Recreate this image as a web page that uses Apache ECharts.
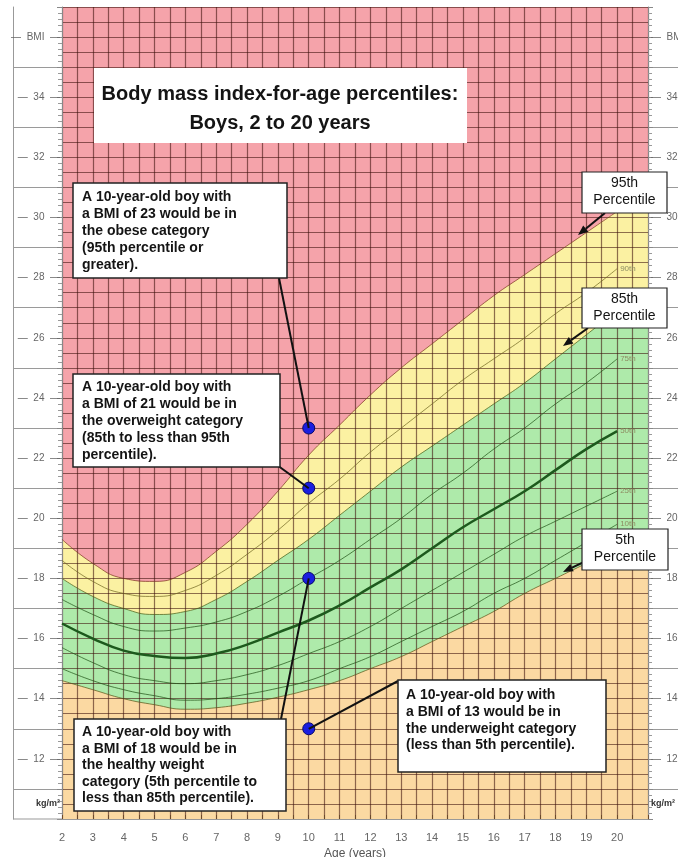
<!DOCTYPE html>
<html>
<head>
<meta charset="utf-8">
<title>BMI-for-age percentiles: Boys</title>
<script src="https://cdn.jsdelivr.net/npm/echarts@6/dist/echarts.min.js"></script>
<style>
html, body { margin: 0; padding: 0; background: #fff; }
#bmiChart { width: 678px; height: 857px; }
</style>
</head>
<body>
<div id="bmiChart"></div>
<script>
// ages in years, BMI percentile curves
var ages = [2, 3, 4, 5, 6, 7, 8, 9, 10, 11, 12, 13, 14, 15, 16, 17, 18, 19, 20];
var p5  = [14.6, 14.3, 14.0, 13.8, 13.65, 13.7, 13.85, 14.05, 14.3, 14.6, 15.0, 15.4, 15.9, 16.4, 16.9, 17.5, 18.0, 18.5, 19.0];
var p10 = [15.0, 14.6, 14.3, 14.1, 13.95, 14.0, 14.15, 14.35, 14.6, 15.0, 15.4, 15.9, 16.4, 16.9, 17.5, 18.0, 18.6, 19.2, 19.8];
var p25 = [15.7, 15.2, 14.8, 14.6, 14.5, 14.6, 14.8, 15.1, 15.5, 15.9, 16.4, 17.0, 17.6, 18.2, 18.8, 19.4, 19.9, 20.4, 20.9];
var p50 = [16.5, 16.0, 15.6, 15.42, 15.35, 15.5, 15.8, 16.2, 16.6, 17.1, 17.7, 18.3, 19.0, 19.7, 20.3, 20.9, 21.6, 22.3, 22.9];
var p75 = [17.3, 16.8, 16.4, 16.25, 16.35, 16.55, 16.9, 17.4, 18.0, 18.6, 19.3, 20.0, 20.8, 21.5, 22.3, 23.0, 23.8, 24.5, 25.3];
var p85 = [18.0, 17.4, 17.0, 16.8, 16.9, 17.3, 17.9, 18.6, 19.3, 20.1, 20.9, 21.7, 22.4, 23.1, 23.8, 24.5, 25.3, 26.1, 26.9];
var p90 = [18.6, 17.9, 17.5, 17.4, 17.6, 18.1, 18.8, 19.6, 20.5, 21.3, 22.2, 23.0, 23.8, 24.6, 25.3, 26.0, 26.8, 27.5, 28.3];
var p95 = [19.3, 18.5, 18.0, 17.9, 18.2, 18.9, 19.8, 20.9, 22.1, 23.1, 24.1, 25.0, 25.8, 26.6, 27.4, 28.1, 28.8, 29.5, 30.2];

// colour bands run on to the right edge of the grid (age 21)
var edgeAge = 21;
var edge95 = 30.7, edge85 = 27.5, edge5 = 19.5;

// the four example boys, all aged 10
var exampleBoys = [[10, 23], [10, 21], [10, 18], [10, 13]];

var ageLabels = ages;
var bmiLabels = [10.5, 12, 14, 16, 18, 20, 22, 24, 26, 28, 30, 32, 34, 36];
var oddLines = [11, 13, 15, 17, 19, 21, 23, 25, 27, 29, 31, 33, 35];

function pairs(xs, ys) {
    return xs.map(function (x, i) { return [x, ys[i]]; });
}
function bandData(ys, last) {
    return pairs(ages, ys).concat([[edgeAge, last]]);
}

var fontFam = "'Liberation Sans', Arial, sans-serif";
var gridLine = 'rgba(60, 15, 10, 0.58)';
var curveSmooth = 0.5;

function leftLabel(v) {
    if (v === 10.5) return '{u|kg/m²}';
    if (v === 36) return '—  BMI  —';
    return '—  ' + v + '  —';
}
function rightLabel(v) {
    if (v === 10.5) return '{u|kg/m²}';
    if (v === 36) return '—  BMI';
    return '—  ' + v;
}

function bandSeries(name, data, color) {
    return {
        name: name, type: 'line', data: data, smooth: curveSmooth, symbol: 'none',
        lineStyle: { width: 0 }, areaStyle: { color: color, opacity: 1, origin: 'start' },
        z: 1, silent: true
    };
}
function curveSeries(name, data, width, color, label) {
    var s = {
        name: name, type: 'line', data: pairs(ages, data), smooth: curveSmooth, symbol: 'none',
        lineStyle: { width: width, color: color }, z: 3, silent: true
    };
    if (label) {
        s.endLabel = { show: true, formatter: label, color: '#8d8d62', fontSize: 8, distance: 3, fontFamily: fontFam };
    }
    return s;
}

var myChart = echarts.init(document.getElementById('bmiChart'));
var option = {
    animation: false,
    grid: {
        left: 62, right: 30, top: 7, bottom: 38, show: true, backgroundColor: '#f5a3aa', borderWidth: 0,
        outerBoundsMode: 'none', containLabel: false
    },
    xAxis: {
        type: 'value', min: 2, max: 21, interval: 0.5, z: 2,
        axisLine: { show: true, onZero: false, lineStyle: { color: '#999', width: 1 } },
        axisTick: { show: true, inside: true, length: 4, lineStyle: { color: '#6b4a2a' } },
        axisLabel: { customValues: ageLabels, color: '#666', fontSize: 11, margin: 13, fontFamily: fontFam },
        splitLine: { show: true, lineStyle: { color: gridLine, width: 1.2 } },
        name: 'Age (years)', nameLocation: 'middle', nameGap: 25,
        nameTextStyle: { color: '#555', fontSize: 12, fontFamily: fontFam }
    },
    yAxis: [
        {   // grid lines every 0.5
            type: 'value', min: 10, max: 37, interval: 0.5, z: 2,
            axisLine: { show: false }, axisTick: { show: false }, axisLabel: { show: false },
            splitLine: { show: true, lineStyle: { color: gridLine, width: 1.2 } }
        },
        {   // left margin: labels and long lines at odd values
            type: 'value', min: 10, max: 37, position: 'left', z: 2,
            axisLine: { show: true, lineStyle: { color: '#888' } },
            axisTick: { show: true, customValues: oddLines, length: 49, lineStyle: { color: '#9a9a9a' } },
            axisLabel: {
                customValues: bmiLabels, formatter: leftLabel, margin: 2, color: '#666', fontSize: 10,
                fontFamily: fontFam, rich: { u: { fontSize: 9, fontWeight: 'bold', color: '#333', fontFamily: fontFam } }
            },
            splitLine: { show: false }
        },
        {   // left edge minor ticks every 0.2
            type: 'value', min: 10, max: 37, interval: 1, position: 'left', z: 2,
            axisLine: { show: false }, axisLabel: { show: false }, splitLine: { show: false },
            axisTick: { show: true, length: 5, lineStyle: { color: '#888' } },
            minorTick: { show: true, splitNumber: 5, length: 4, lineStyle: { color: '#999' } }
        },
        {   // outer left border of the margin
            type: 'value', min: 10, max: 37, position: 'left', offset: 49, z: 2,
            axisLine: { show: true, lineStyle: { color: '#999' } },
            axisTick: { show: false }, axisLabel: { show: false }, splitLine: { show: false }
        },
        {   // right margin
            type: 'value', min: 10, max: 37, position: 'right', z: 2,
            axisLine: { show: true, lineStyle: { color: '#888' } },
            axisTick: { show: true, customValues: oddLines, length: 30, lineStyle: { color: '#9a9a9a' } },
            axisLabel: {
                customValues: bmiLabels, formatter: rightLabel, margin: 3, color: '#666', fontSize: 10,
                fontFamily: fontFam, rich: { u: { fontSize: 9, fontWeight: 'bold', color: '#333', fontFamily: fontFam } }
            },
            splitLine: { show: false }
        },
        {   // right edge minor ticks
            type: 'value', min: 10, max: 37, interval: 1, position: 'right', z: 2,
            axisLine: { show: false }, axisLabel: { show: false }, splitLine: { show: false },
            axisTick: { show: true, length: 5, lineStyle: { color: '#888' } },
            minorTick: { show: true, splitNumber: 5, length: 4, lineStyle: { color: '#999' } }
        }
    ],
    series: [
        bandSeries('95th band', bandData(p95, edge95), '#fbf1a2'),
        bandSeries('85th band', bandData(p85, edge85), '#aeeaaa'),
        bandSeries('5th band', bandData(p5, edge5), '#fbd9a2'),
        curveSeries('95th', p95, 1, 'rgba(120,50,30,0.7)'),
        curveSeries('90th', p90, 1, 'rgba(110,100,30,0.7)', '90th'),
        curveSeries('85th', p85, 1, 'rgba(70,90,20,0.7)'),
        curveSeries('75th', p75, 1, 'rgba(30,80,20,0.7)', '75th'),
        curveSeries('50th', p50, 2.5, '#1d5a1d', '50th'),
        curveSeries('25th', p25, 1, 'rgba(30,80,20,0.7)', '25th'),
        curveSeries('10th', p10, 1, 'rgba(30,80,20,0.7)', '10th'),
        curveSeries('5th', p5, 1, 'rgba(90,80,20,0.7)'),
        {
            name: 'Example boys', type: 'scatter', data: exampleBoys, symbolSize: 12, z: 6,
            itemStyle: { color: '#1a1ee0', borderColor: '#08086a', borderWidth: 1, opacity: 1 }
        }
    ]
};
myChart.setOption(option);

// annotation boxes, titles and pointer lines
var boldFont = "bold 14px " + fontFam;
function box(x, y, w, h, lw) {
    return { type: 'rect', shape: { x: x, y: y, width: w, height: h }, style: { fill: '#fff', stroke: '#222', lineWidth: lw }, z: 20 };
}
function text(x, y, str, font, align, lh) {
    return {
        type: 'text', x: x, y: y, z: 21,
        style: { text: str, font: font, fill: '#141414', align: align, textAlign: align, verticalAlign: 'top', textVerticalAlign: 'top', lineHeight: lh }
    };
}
function line(x1, y1, x2, y2) {
    return { type: 'line', shape: { x1: x1, y1: y1, x2: x2, y2: y2 }, style: { stroke: '#111', lineWidth: 2 }, z: 19 };
}
function arrow(x1, y1, x2, y2) {
    var a = Math.atan2(y2 - y1, x2 - x1), L = 10, W = 4;
    var bx = x2 - L * Math.cos(a), by = y2 - L * Math.sin(a);
    return [
        line(x1, y1, bx, by),
        { type: 'polygon', z: 19, shape: { points: [[x2, y2], [bx + W * Math.sin(a), by - W * Math.cos(a)], [bx - W * Math.sin(a), by + W * Math.cos(a)]] }, style: { fill: '#111' } }
    ];
}

var dotPx = exampleBoys.map(function (d) { return myChart.convertToPixel({ gridIndex: 0 }, d); });

var g = [];
// title
g.push({ type: 'rect', shape: { x: 94, y: 68, width: 373, height: 75 }, style: { fill: '#fff' }, z: 20 });
g.push(text(280, 80, 'Body mass index-for-age percentiles:\nBoys, 2 to 20 years', "bold 20px " + fontFam, 'center', 29));

// callouts
g.push(box(73, 183, 214, 95, 1.5));
g.push(text(82, 189, 'A 10-year-old boy with\na BMI of 23 would be in\nthe obese category\n(95th percentile or\ngreater).', boldFont, 'left', 17));
g.push(line(279, 278, dotPx[0][0], dotPx[0][1]));

g.push(box(73, 374, 207, 93, 1.5));
g.push(text(82, 379, 'A 10-year-old boy with\na BMI of 21 would be in\nthe overweight category\n(85th to less than 95th\npercentile).', boldFont, 'left', 17));
g.push(line(277, 465, dotPx[1][0], dotPx[1][1]));

g.push(box(74, 719, 212, 92, 1.5));
g.push(text(82, 724, 'A 10-year-old boy with\na BMI of 18 would be in\nthe healthy weight\ncategory (5th percentile to\nless than 85th percentile).', boldFont, 'left', 16.5));
g.push(line(281, 719, dotPx[2][0], dotPx[2][1]));

g.push(box(398, 680, 208, 92, 1.5));
g.push(text(406, 687, 'A 10-year-old boy with\na BMI of 13 would be in\nthe underweight category\n(less than 5th percentile).', boldFont, 'left', 16.7));
g.push(line(398, 681, dotPx[3][0], dotPx[3][1]));

// percentile tags
var tagFont = "14px " + fontFam;
g.push(box(582, 172, 85, 41, 1.2));
g.push(text(624.5, 175, '95th\nPercentile', tagFont, 'center', 17));
g = g.concat(arrow(605, 213, 578, 235));
g.push(box(582, 288, 85, 40, 1.2));
g.push(text(624.5, 291, '85th\nPercentile', tagFont, 'center', 17));
g = g.concat(arrow(588, 328, 563, 346));
g.push(box(582, 529, 86, 41, 1.2));
g.push(text(625, 532, '5th\nPercentile', tagFont, 'center', 17));
g = g.concat(arrow(584, 562, 563, 572));

// bottom rule extends under the left margin
g.push({ type: 'line', shape: { x1: 13, y1: 819, x2: 62, y2: 819 }, style: { stroke: '#999', lineWidth: 1 }, z: 5 });

myChart.setOption({ graphic: g });
</script>
</body>
</html>
